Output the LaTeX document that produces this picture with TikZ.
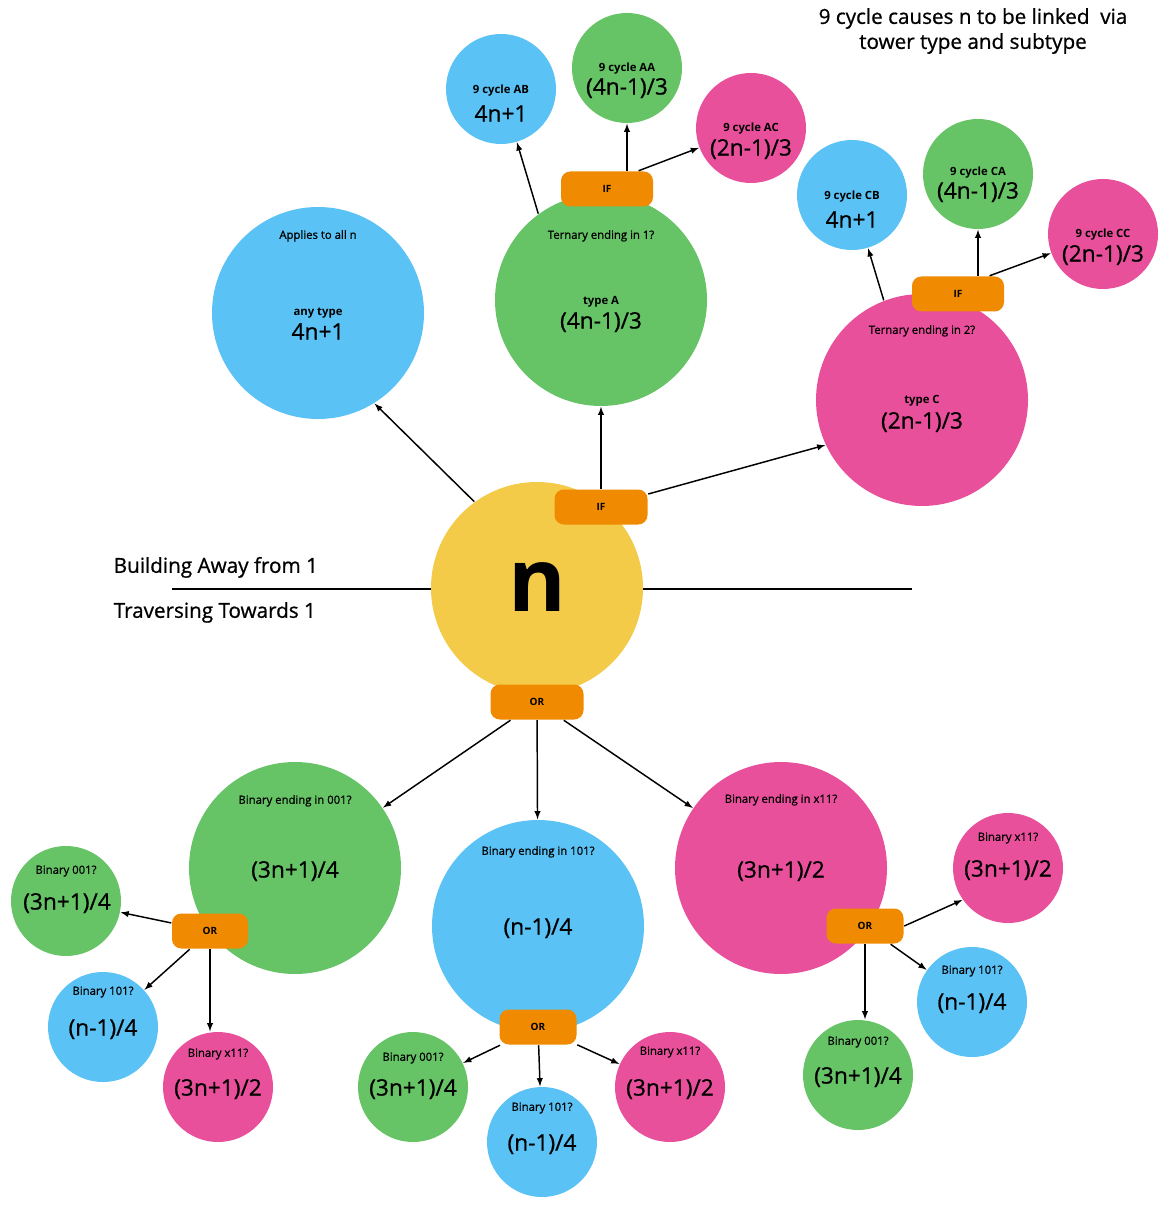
\documentclass[tikz,border=0pt]{standalone}
\usepackage{fontspec}
\setmainfont{Open Sans}
\newfontfamily\mediumfont{Open Sans}[FakeBold=0.8]

\definecolor{nyellow}{RGB}{243,203,72}
\definecolor{skyblue}{RGB}{91,194,245}
\definecolor{leafgreen}{RGB}{102,196,102}
\definecolor{rosepink}{RGB}{233,80,156}
\definecolor{gateorange}{RGB}{240,138,0}

\tikzset{
  ball/.style={circle, inner sep=0pt, minimum size=#1*1.5pt},
  bigball/.style={ball=106},
  smallball/.style={ball=55},
  gate/.style={fill=gateorange, rounded corners=7pt, inner sep=0pt,
    minimum width=#1*0.75pt, minimum height=26.25pt,
    font=\bfseries\fontsize{7.5}{9}\selectfont},
  gate/.default=93,
  ask/.style={inner sep=0pt, text height=0.72em, text depth=0pt,
    font=\mediumfont\fontsize{8.5}{10}\selectfont},
  kind/.style={ask, font=\bfseries\fontsize{8.5}{10}\selectfont},
  formula/.style={inner sep=0pt, text height=0.72em, text depth=0pt, yshift=-2.8pt,
    font=\mediumfont\fontsize{17}{20}\selectfont},
  side/.style={anchor=west, inner sep=0pt, text height=0.72em, text depth=0pt,
    font=\mediumfont\fontsize{15.5}{18}\selectfont},
}

\begin{document}
\begin{tikzpicture}[x=0.75pt, y=-0.75pt, >=latex, line width=1.1pt]
  \useasboundingbox (0,0) rectangle (1159,1205);

  % divider behind n
  \coordinate (divl) at (172,589);
  \coordinate (divr) at (912,589);
  \draw[line width=1pt] (divl) -- (divr);
  \node[side] (away) at (113,568) {Building Away from 1};
  \node[side] (towards) at (113,613) {Traversing Towards 1};
  \node[align=center, inner sep=0pt, font=\mediumfont\fontsize{15.5}{18.75}\selectfont] (title) at (973,31)
    {9 cycle causes n to be linked\ \ via\\tower type and subtype};

  % centre
  \node[bigball, fill=nyellow] (n) at (537,588) {};
  \node[anchor=base, inner sep=0pt, font=\bfseries\fontsize{66}{70}\selectfont] (nlabel) at (537,611) {n};

  % building away from 1
  \node[bigball, fill=skyblue] (anyt) at (318,313) {};
  \node[ask] (anyt-q) at (318,234) {Applies to all n};
  \node[kind] (anyt-k) at (318,311) {any type};
  \node[formula] (anyt-f) at (318,331) {4n+1};

  \node[bigball, fill=leafgreen] (typeA) at (601,300) {};
  \node[ask] (typeA-q) at (601,234) {Ternary ending in 1?};
  \node[kind] (typeA-k) at (601,300) {type A};
  \node[formula] (typeA-f) at (601,320) {(4n-1)/3};

  \node[bigball, fill=rosepink] (typeC) at (922,400) {};
  \node[ask] (typeC-q) at (922,329) {Ternary ending in 2?};
  \node[kind] (typeC-k) at (922,399) {type C};
  \node[formula] (typeC-f) at (922,420) {(2n-1)/3};

  \node[smallball, fill=skyblue] (ab) at (501,89) {};
  \node[kind] (ab-k) at (501,89) {9 cycle AB};
  \node[formula] (ab-f) at (501,113) {4n+1};
  \node[smallball, fill=leafgreen] (aa) at (627,68) {};
  \node[kind] (aa-k) at (627,67) {9 cycle AA};
  \node[formula] (aa-f) at (627,86) {(4n-1)/3};
  \node[smallball, fill=rosepink] (ac) at (751,128) {};
  \node[kind] (ac-k) at (751,127) {9 cycle AC};
  \node[formula] (ac-f) at (751,147) {(2n-1)/3};

  \node[smallball, fill=skyblue] (cb) at (852,195) {};
  \node[kind] (cb-k) at (852,195) {9 cycle CB};
  \node[formula] (cb-f) at (852,219) {4n+1};
  \node[smallball, fill=leafgreen] (ca) at (978,174) {};
  \node[kind] (ca-k) at (978,171) {9 cycle CA};
  \node[formula] (ca-f) at (978,190) {(4n-1)/3};
  \node[smallball, fill=rosepink] (cc) at (1103,234) {};
  \node[kind] (cc-k) at (1103,233) {9 cycle CC};
  \node[formula] (cc-f) at (1103,253) {(2n-1)/3};

  % traversing towards 1
  \node[bigball, fill=leafgreen] (b001) at (295,868) {};
  \node[ask] (b001-q) at (295,799) {Binary ending in 001?};
  \node[formula] (b001-f) at (295,869) {(3n+1)/4};
  \node[bigball, fill=skyblue] (b101) at (538,926) {};
  \node[ask] (b101-q) at (538,850) {Binary ending in 101?};
  \node[formula] (b101-f) at (538,926) {(n-1)/4};
  \node[bigball, fill=rosepink] (bx11) at (781,868) {};
  \node[ask] (bx11-q) at (781,798) {Binary ending in x11?};
  \node[formula] (bx11-f) at (781,869) {(3n+1)/2};

  \node[smallball, fill=leafgreen] (s001) at (66,901) {};
  \node[ask] (s001-q) at (66,869) {Binary 001?};
  \node[formula] (s001-f) at (67,901) {(3n+1)/4};
  \node[smallball, fill=skyblue] (s101) at (103,1027) {};
  \node[ask] (s101-q) at (103,990) {Binary 101?};
  \node[formula] (s101-f) at (103,1027) {(n-1)/4};
  \node[smallball, fill=rosepink] (sx11) at (218,1087) {};
  \node[ask] (sx11-q) at (218,1052) {Binary x11?};
  \node[formula] (sx11-f) at (218,1087) {(3n+1)/2};

  \node[smallball, fill=leafgreen] (m001) at (413,1087) {};
  \node[ask] (m001-q) at (413,1056) {Binary 001?};
  \node[formula] (m001-f) at (413,1087) {(3n+1)/4};
  \node[smallball, fill=skyblue] (m101) at (542,1142) {};
  \node[ask] (m101-q) at (542,1106) {Binary 101?};
  \node[formula] (m101-f) at (542,1142) {(n-1)/4};
  \node[smallball, fill=rosepink] (mx11) at (670,1087) {};
  \node[ask] (mx11-q) at (670,1050) {Binary x11?};
  \node[formula] (mx11-f) at (670,1087) {(3n+1)/2};

  \node[smallball, fill=rosepink] (rx11) at (1008,868) {};
  \node[ask] (rx11-q) at (1008,836) {Binary x11?};
  \node[formula] (rx11-f) at (1008,868) {(3n+1)/2};
  \node[smallball, fill=skyblue] (r101) at (972,1002) {};
  \node[ask] (r101-q) at (972,969) {Binary 101?};
  \node[formula] (r101-f) at (972,1001) {(n-1)/4};
  \node[smallball, fill=leafgreen] (r001) at (858,1075) {};
  \node[ask] (r001-q) at (858,1040) {Binary 001?};
  \node[formula] (r001-f) at (858,1075) {(3n+1)/4};

  % gates
  \node[gate] (ifn) at (601,507) {IF};
  \node[gate] (orn) at (537,702) {OR};
  \node[gate=92] (ifa) at (607,189) {IF};
  \node[gate=92] (ifc) at (958,294) {IF};
  \node[gate=76] (orl) at (210,931) {OR};
  \node[gate=77] (orm) at (538,1027) {OR};
  \node[gate=77] (orr) at (865,926) {OR};

  % connectors
  \draw[->] (n.126) -- (anyt.-58);
  \draw[->] (ifn) -- (typeA);
  \draw[->] (ifn) -- (typeC.205);
  \draw[->] (typeA.126) -- (ab);
  \draw[->] (ifa.north -| aa) -- (aa);
  \draw[->] (ifa.30) -- (ac);
  \draw[->] (typeC.111) -- (cb);
  \draw[->] (ifc.north -| ca) -- (ca);
  \draw[->] (ifc.30) -- (cc);

  \draw[->] (orn) -- (b001);
  \draw[->] (orn) -- (b101);
  \draw[->] (orn) -- (bx11);
  \draw[->] (orl) -- (s001);
  \draw[->] (orl) -- (s101);
  \draw[->] (orl.south) -- (orl.south |- sx11.north);
  \draw[->] (orm) -- (m001);
  \draw[->] (orm) -- (m101);
  \draw[->] (orm) -- (mx11);
  \draw[->] (orr.east) -- (rx11.215);
  \draw[->] (orr) -- (r101);
  \draw[->] (orr.south) -- (orr.south |- r001.north);
\end{tikzpicture}
\end{document}
